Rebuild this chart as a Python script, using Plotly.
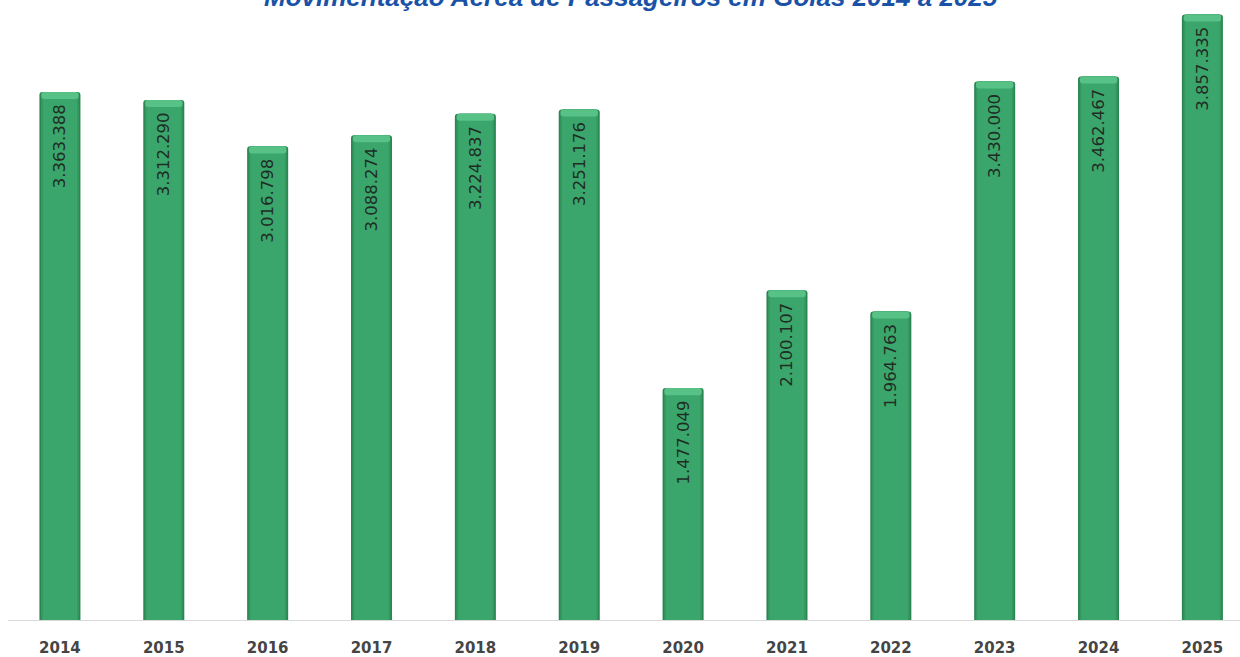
import plotly.graph_objects as go

# Passenger air traffic in Goiás, 2014-2025
anos = ["2014", "2015", "2016", "2017", "2018", "2019",
        "2020", "2021", "2022", "2023", "2024", "2025"]
passageiros = [3363388, 3312290, 3016798, 3088274, 3224837, 3251176,
               1477049, 2100107, 1964763, 3430000, 3462467, 3857335]

titulo = "Movimentação Aérea de Passageiros em Goiás 2014 a 2025"

Y_MAX = 3.949e6
BEVEL = 45000        # height of the light top band, in passengers
LABEL_INSET = 60000  # gap between bar top and the end of its label

fig = go.Figure()

# dark outer body (edges of the cylinder)
fig.add_trace(go.Bar(
    x=anos, y=passageiros, width=0.395,
    marker=dict(color="#2b8453", line=dict(width=0), cornerradius=3),
    hoverinfo="skip", showlegend=False,
))
# mid-tone body
fig.add_trace(go.Bar(
    x=anos, y=passageiros, width=0.365,
    marker=dict(color="#35995f", line=dict(width=0), cornerradius=3),
    hoverinfo="skip", showlegend=False,
))
# main face
fig.add_trace(go.Bar(
    x=anos, y=passageiros, width=0.33,
    marker=dict(color="#3ba66b", line=dict(width=0), cornerradius=2),
    showlegend=False,
))
# light bevel band at the top of each bar
fig.add_trace(go.Bar(
    x=anos, y=[BEVEL] * len(anos),
    base=[v - BEVEL for v in passageiros], width=0.36,
    marker=dict(color="#57c186", line=dict(width=0), cornerradius=3),
    hoverinfo="skip", showlegend=False,
))
# value labels, rotated inside each bar a little below its top
fig.add_trace(go.Bar(
    x=anos, y=[v - LABEL_INSET for v in passageiros], width=0.33,
    customdata=passageiros,
    marker=dict(color="rgba(0,0,0,0)", line=dict(width=0)),
    texttemplate="%{customdata:,}",
    textposition="inside", insidetextanchor="end", textangle=-90,
    textfont=dict(family="DejaVu Sans", size=16.5, color="#1f2d25"),
    constraintext="none", cliponaxis=False,
    hoverinfo="skip", showlegend=False,
))

fig.update_layout(
    width=1240, height=657,
    margin=dict(l=8, r=0, t=0, b=37),
    paper_bgcolor="white", plot_bgcolor="white",
    barmode="overlay",
    separators=",.",
    xaxis=dict(
        type="category", range=[-0.5, 11.362],
        showline=True, linecolor="#d9d9d9", linewidth=1,
        showgrid=False, ticks="", ticklabelstandoff=14,
        tickfont=dict(family="DejaVu Sans", size=15, color="#454545", weight="bold"),
    ),
    yaxis=dict(range=[0, Y_MAX], visible=False, showgrid=False, zeroline=False),
    annotations=[dict(
        text="<b><i>" + titulo + "</i></b>",
        xref="paper", yref="paper", x=0.5057, y=1.0,
        xanchor="center", yanchor="middle", yshift=3,
        showarrow=False,
        font=dict(family="Liberation Sans", size=26, color="#1a52a8"),
    )],
)

fig.write_html("out.html")
